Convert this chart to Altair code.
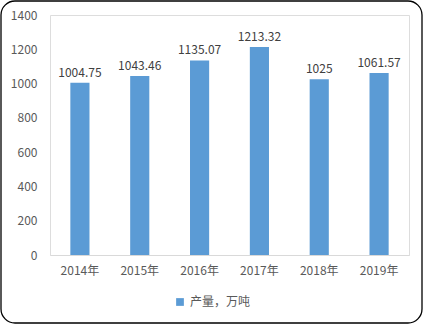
import altair as alt
import pandas as pd

years = ["2014年", "2015年", "2016年", "2017年", "2018年", "2019年"]
values = [1004.75, 1043.46, 1135.07, 1213.32, 1025, 1061.57]
labels = ["1004.75", "1043.46", "1135.07", "1213.32", "1025", "1061.57"]
y_ticks = [0, 200, 400, 600, 800, 1000, 1200, 1400]
series = "产量，万吨"

df = pd.DataFrame({"year": years, "value": values, "label": labels, "series": [series] * len(years)})

FONT = "Noto Sans CJK SC"

x_enc = alt.X("year:N", sort=years, title=None,
              scale=alt.Scale(paddingInner=0.68, paddingOuter=0.34),
              axis=alt.Axis(labelAngle=0, ticks=False, domainColor="#D9D9D9", labelPadding=10,
                            labelColor="#595959", labelFont=FONT, labelFontSize=12))
y_enc = alt.Y("value:Q", title=None,
              scale=alt.Scale(domain=[0, 1400]),
              axis=alt.Axis(values=y_ticks, format="d", labelOverlap=False, grid=False, domain=False,
                            ticks=False, labelPadding=13, labelColor="#595959", labelFont=FONT,
                            labelFontSize=12))

base = alt.Chart(df).encode(x=x_enc, y=y_enc)

bars = base.mark_bar(color="#5B9BD5").encode(
    color=alt.Color("series:N", scale=alt.Scale(range=["#5B9BD5"]),
                    legend=alt.Legend(title=None, orient="none", legendX=124, legendY=281,
                                      symbolType="square", symbolSize=60, labelFont=FONT,
                                      labelFontSize=12, labelColor="#595959", symbolStrokeWidth=0)),
)

text = base.mark_text(baseline="bottom", dy=-3, font=FONT, fontSize=12, color="#404040").encode(
    text="label:N",
)

frame = alt.Chart(pd.DataFrame({"a": [0]})).mark_rect(
    fill=None, stroke="#000000", strokeWidth=1.3, cornerRadius=14
).encode(
    x=alt.value(-49), x2=alt.value(372), y=alt.value(-14), y2=alt.value(308)
)

chart = alt.layer(bars, text, frame).properties(
    width=359, height=240,
    autosize=alt.AutoSizeParams(type="none"),
    padding={"left": 50, "top": 15, "right": 15, "bottom": 70},
).configure_view(stroke=None).configure(background="white")

chart.save("out.html", embed_options={"renderer": "svg", "actions": False})
